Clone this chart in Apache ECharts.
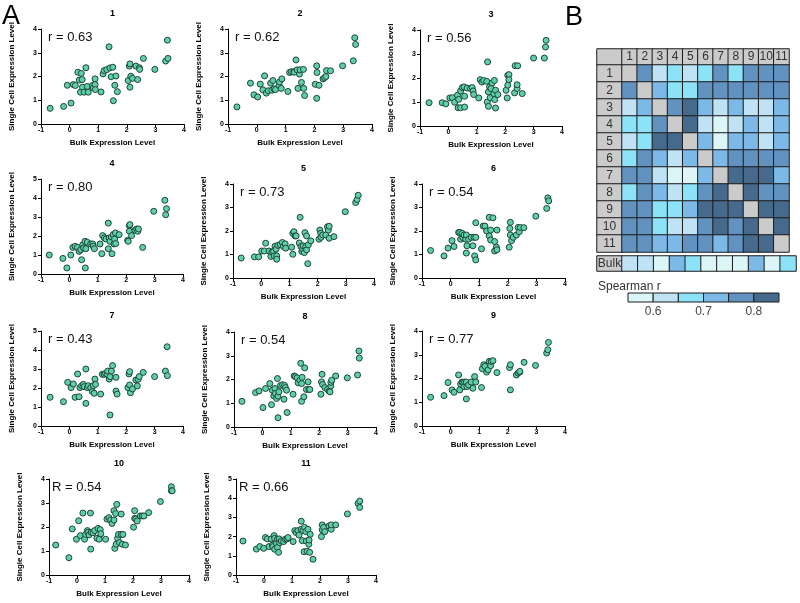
<!DOCTYPE html>
<html>
<head>
<meta charset="utf-8">
<title>Single cell vs bulk expression</title>
<script src="https://cdn.jsdelivr.net/npm/echarts@6/dist/echarts.min.js"></script>
<style>
    html, body {margin: 0; padding: 0; background: #fff;}
    #chart {width: 800px; height: 603px;}
</style>
</head>
<body>
<div id="chart"></div>
<script>
    // ---- data ----
    const PANEL_NAMES = ['1', '2', '3', '4', '5', '6', '7', '8', '9', '10', '11'];
    const R_LABELS = ['r = 0.63', 'r = 0.62', 'r = 0.56', 'r = 0.80', 'r = 0.73', 'r = 0.54',
        'r = 0.43', 'r = 0.54', 'r = 0.77', 'R = 0.54', 'R = 0.66'];
    const Y_MAX = [4, 4, 4, 5, 4, 4, 5, 4, 4, 4, 5];
    const X_NAME = 'Bulk Expression Level';
    const Y_NAME = 'Single Cell Expression Level';

    // [bulk, single cell] per gene, one list per cell
    const cell1 = [[-0.68, 0.66], [-0.21, 0.74], [0.05, 0.88], [-0.08, 1.63], [0.13, 1.66], [0.2, 1.62], [0.29, 2.18],
        [0.41, 2.13], [0.34, 1.85], [0.44, 1.87], [0.38, 1.34], [0.45, 1.55], [0.51, 1.34], [0.57, 2.37], [0.62, 1.58],
        [0.65, 1.34], [0.8, 1.62], [0.83, 1.52], [0.89, 1.9], [0.89, 1.66], [0.9, 1.45], [1.1, 1.35], [1.17, 2.11],
        [1.21, 2.25], [1.3, 2.29], [1.38, 3.25], [1.41, 2.36], [1.45, 1.99], [1.51, 2.39], [1.53, 0.98], [1.58, 1.63],
        [1.62, 2.02], [1.67, 1.36], [2.05, 1.83], [2.09, 2.44], [2.11, 2.53], [2.11, 1.55], [2.14, 2.01], [2.2, 1.92],
        [2.32, 2.44], [2.38, 1.87], [2.44, 2.37], [2.45, 2.3], [2.58, 2.76], [2.98, 2.3], [3.36, 2.65], [3.42, 3.53],
        [3.44, 2.76]];
    const cell2 = [[-0.69, 0.72], [-0.22, 1.72], [-0.1, 1.23], [0.03, 1.14], [0.12, 1.68], [0.27, 2.03], [0.21, 1.44],
        [0.33, 1.3], [0.4, 1.4], [0.48, 1.72], [0.56, 1.83], [0.52, 1.42], [0.6, 1.48], [0.65, 1.45], [0.77, 1.63],
        [0.79, 1.77], [0.87, 1.9], [0.85, 1.5], [1.08, 1.37], [1.14, 2.17], [1.2, 2.2], [1.28, 2.2], [1.3, 2.18],
        [1.36, 2.7], [1.4, 2.28], [1.43, 1.5], [1.48, 2.1], [1.5, 2.28], [1.55, 1.75], [1.62, 2.3], [1.63, 1.5],
        [1.66, 1.2], [2.03, 1.67], [2.08, 2.45], [2.09, 2.17], [2.08, 1.08], [2.16, 1.63], [2.3, 1.9], [2.35, 1.95],
        [2.4, 2.0], [2.42, 2.25], [2.56, 2.24], [2.98, 2.45], [3.35, 2.66], [3.4, 3.63], [3.43, 3.35]];
    const cell3 = [[-0.68, 0.97], [-0.22, 0.97], [-0.09, 0.92], [0.05, 1.17], [0.14, 1.18], [0.22, 0.99], [0.32, 1.28],
        [0.36, 1.11], [0.43, 1.46], [0.34, 0.76], [0.43, 0.76], [0.49, 1.6], [0.55, 1.63], [0.57, 0.79], [0.57, 1.24],
        [0.66, 1.58], [0.78, 1.56], [0.84, 1.6], [0.87, 1.46], [0.89, 1.31], [1.07, 1.17], [1.12, 1.93], [1.18, 1.83],
        [1.24, 1.9], [1.35, 1.86], [1.38, 2.67], [1.37, 1.0], [1.41, 0.82], [1.41, 1.42], [1.45, 1.63], [1.47, 1.18],
        [1.5, 1.56], [1.54, 1.79], [1.6, 1.35], [1.62, 1.9], [1.63, 1.1], [1.66, 0.75], [1.66, 1.49], [1.74, 1.31],
        [2.03, 1.49], [2.07, 1.17], [2.09, 2.11], [2.09, 1.7], [2.13, 2.14], [2.13, 1.93], [2.33, 1.38], [2.35, 2.51],
        [2.42, 1.56], [2.42, 1.72], [2.44, 2.51], [2.6, 1.35], [3.0, 2.83], [3.38, 2.83], [3.42, 3.29], [3.44, 3.57]];
    const cell4 = [[-0.71, 1.0], [-0.23, 0.82], [-0.09, 0.32], [0.05, 1.0], [0.12, 1.4], [0.2, 1.46], [0.28, 1.4],
        [0.34, 1.19], [0.4, 1.28], [0.43, 0.75], [0.47, 1.54], [0.5, 1.37], [0.55, 1.72], [0.56, 0.32], [0.58, 1.33],
        [0.63, 1.67], [0.75, 1.58], [0.82, 1.58], [0.84, 1.46], [0.88, 1.33], [1.08, 1.58], [1.14, 1.07], [1.17, 2.02],
        [1.23, 1.9], [1.29, 1.84], [1.37, 2.68], [1.37, 1.33], [1.4, 1.89], [1.43, 1.72], [1.48, 1.95], [1.5, 1.07],
        [1.54, 2.07], [1.57, 1.58], [1.59, 1.84], [1.62, 2.16], [1.63, 1.6], [1.75, 2.07], [2.05, 1.77], [2.07, 1.72],
        [2.11, 2.54], [2.13, 2.6], [2.11, 2.25], [2.19, 2.02], [2.31, 2.3], [2.37, 2.37], [2.41, 2.25], [2.43, 2.37],
        [2.58, 1.4], [2.97, 3.3], [3.36, 3.88], [3.42, 3.44], [3.39, 3.12]];
    const cell5 = [[-0.71, 0.85], [-0.24, 0.9], [-0.09, 0.9], [0.02, 1.15], [0.11, 1.15], [0.16, 1.48], [0.28, 1.15],
        [0.34, 0.92], [0.38, 1.1], [0.44, 1.13], [0.46, 0.94], [0.49, 1.35], [0.53, 1.23], [0.55, 0.94], [0.55, 0.8],
        [0.59, 1.39], [0.67, 1.42], [0.75, 1.51], [0.79, 1.34], [0.85, 1.45], [0.87, 1.27], [1.08, 1.31], [1.12, 1.01],
        [1.12, 1.9], [1.16, 1.97], [1.2, 1.79], [1.24, 1.79], [1.38, 2.58], [1.35, 1.49], [1.41, 1.34], [1.44, 1.13],
        [1.47, 1.23], [1.49, 1.37], [1.53, 1.08], [1.55, 1.93], [1.58, 1.34], [1.61, 1.2], [1.61, 1.79], [1.65, 0.61],
        [1.67, 1.41], [1.76, 1.58], [2.05, 1.65], [2.08, 2.04], [2.11, 1.9], [2.12, 1.73], [2.18, 1.83], [2.29, 1.83],
        [2.35, 2.18], [2.38, 2.04], [2.41, 2.2], [2.41, 1.69], [2.58, 1.76], [2.98, 2.82], [3.35, 3.21], [3.4, 3.34],
        [3.44, 3.52]];
    const cell6 = [[-0.7, 1.17], [-0.23, 0.94], [-0.09, 1.27], [0.05, 1.59], [0.12, 1.34], [0.28, 1.94], [0.32, 1.94],
        [0.35, 1.65], [0.4, 1.9], [0.43, 1.72], [0.47, 1.83], [0.53, 1.65], [0.55, 1.06], [0.57, 1.37], [0.55, 1.83],
        [0.63, 1.65], [0.72, 1.73], [0.78, 1.37], [0.82, 1.73], [0.84, 0.94], [0.88, 0.77], [0.88, 2.35], [0.88, 1.73],
        [1.08, 1.24], [1.14, 2.21], [1.2, 2.21], [1.26, 2.0], [1.35, 2.58], [1.35, 1.79], [1.4, 2.04], [1.4, 1.62],
        [1.48, 2.56], [1.54, 1.55], [1.54, 1.15], [1.6, 1.31], [1.62, 2.04], [1.62, 1.2], [2.05, 1.31], [2.07, 2.11],
        [2.09, 1.83], [2.09, 2.37], [2.13, 1.59], [2.19, 1.73], [2.3, 1.83], [2.36, 2.15], [2.4, 1.97], [2.44, 2.15],
        [2.56, 2.14], [2.98, 2.63], [3.36, 2.96], [3.4, 3.41], [3.43, 3.28]];
    const cell7 = [[-0.68, 1.51], [-0.21, 1.28], [-0.06, 2.3], [0.06, 2.02], [0.14, 2.21], [0.2, 1.51], [0.29, 2.74],
        [0.34, 1.54], [0.37, 2.02], [0.43, 2.12], [0.49, 2.19], [0.52, 2.07], [0.58, 3.0], [0.58, 1.19], [0.63, 2.02],
        [0.67, 2.12], [0.75, 2.02], [0.81, 1.81], [0.84, 2.12], [0.87, 1.72], [0.9, 2.47], [0.92, 2.19], [1.1, 1.68],
        [1.16, 2.72], [1.22, 2.72], [1.27, 2.77], [1.33, 2.72], [1.35, 2.89], [1.4, 2.47], [1.43, 2.6], [1.43, 0.58],
        [1.48, 2.89], [1.52, 3.18], [1.64, 2.56], [1.64, 1.84], [1.68, 1.68], [2.06, 2.02], [2.1, 2.74], [2.12, 2.86],
        [2.12, 2.16], [2.15, 1.75], [2.22, 1.95], [2.34, 2.42], [2.39, 2.11], [2.42, 2.46], [2.46, 2.6], [2.6, 2.82],
        [3.0, 2.6], [3.38, 2.89], [3.44, 4.17], [3.45, 2.65]];
    const cell8 = [[-0.72, 1.08], [-0.24, 1.45], [-0.12, 1.52], [0.02, 0.82], [0.11, 1.62], [0.26, 1.83], [0.32, 0.94],
        [0.35, 1.55], [0.4, 1.31], [0.44, 1.62], [0.46, 1.41], [0.5, 1.2], [0.53, 2.04], [0.55, 0.39], [0.55, 1.3],
        [0.58, 1.48], [0.64, 1.75], [0.71, 1.78], [0.76, 1.17], [0.78, 1.75], [0.81, 1.66], [0.85, 1.55], [0.87, 0.61],
        [1.08, 1.38], [1.12, 2.15], [1.16, 2.12], [1.22, 2.07], [1.26, 1.86], [1.32, 1.97], [1.35, 2.68], [1.38, 1.83],
        [1.38, 1.08], [1.4, 2.09], [1.46, 1.27], [1.49, 2.49], [1.55, 1.58], [1.61, 1.9], [1.64, 1.58], [1.67, 1.58],
        [2.06, 1.38], [2.08, 1.9], [2.1, 2.22], [2.12, 1.79], [2.2, 1.66], [2.29, 1.58], [2.35, 1.51], [2.38, 1.48],
        [2.41, 1.73], [2.41, 1.88], [2.44, 1.97], [2.58, 2.15], [2.99, 2.07], [3.35, 2.19], [3.41, 2.9], [3.4, 3.2]];
    const cell9 = [[-0.7, 1.21], [-0.23, 1.28], [-0.09, 1.83], [0.05, 1.52], [0.12, 1.42], [0.28, 2.15], [0.32, 1.52],
        [0.35, 1.76], [0.4, 1.85], [0.43, 1.83], [0.47, 1.66], [0.49, 1.85], [0.55, 1.85], [0.55, 1.14], [0.57, 1.66],
        [0.63, 1.73], [0.72, 1.85], [0.78, 1.59], [0.84, 2.08], [0.88, 1.85], [1.08, 1.62], [1.11, 2.41], [1.16, 2.58],
        [1.2, 2.51], [1.26, 2.27], [1.31, 2.37], [1.35, 2.72], [1.4, 2.54], [1.42, 2.72], [1.48, 2.75], [1.62, 2.25],
        [2.06, 2.46], [2.09, 2.58], [2.09, 1.52], [2.3, 2.15], [2.36, 2.23], [2.42, 2.27], [2.42, 2.3], [2.57, 2.68],
        [2.97, 2.55], [3.36, 3.07], [3.4, 3.21], [3.42, 3.52]];
    const cell10 = [[-0.76, 1.25], [-0.29, 0.72], [-0.17, 1.92], [-0.02, 1.49], [0.06, 2.26], [0.12, 1.64], [0.21, 2.58],
        [0.27, 1.49], [0.31, 1.69], [0.37, 1.85], [0.39, 1.78], [0.43, 1.67], [0.48, 2.58], [0.49, 1.08], [0.51, 1.78],
        [0.57, 1.76], [0.63, 1.85], [0.71, 1.53], [0.75, 1.94], [0.79, 1.49], [0.83, 1.89], [0.85, 1.72], [1.02, 1.49],
        [1.07, 2.33], [1.14, 2.39], [1.2, 2.29], [1.25, 2.15], [1.32, 2.68], [1.32, 2.29], [1.35, 1.11], [1.38, 2.56],
        [1.4, 1.28], [1.42, 2.94], [1.45, 1.53], [1.48, 1.69], [1.52, 1.35], [1.58, 2.54], [1.58, 1.69], [1.62, 1.28],
        [1.64, 1.69], [1.73, 1.25], [2.02, 1.99], [2.06, 2.68], [2.06, 2.36], [2.1, 2.33], [2.15, 2.25], [2.26, 2.46],
        [2.33, 2.46], [2.39, 2.46], [2.56, 2.6], [2.98, 3.06], [3.37, 3.68], [3.37, 3.51], [3.4, 3.51]];
    const cell11 = [[-0.75, 1.77], [-0.27, 1.35], [-0.15, 1.48], [-0.01, 1.39], [0.05, 1.95], [0.12, 1.88], [0.18, 1.48],
        [0.26, 1.88], [0.3, 1.56], [0.32, 1.48], [0.36, 2.05], [0.38, 1.91], [0.38, 1.34], [0.44, 1.65], [0.48, 1.86],
        [0.48, 1.44], [0.52, 1.18], [0.54, 1.88], [0.56, 1.68], [0.62, 1.77], [0.7, 1.74], [0.76, 1.86], [0.82, 1.88],
        [0.86, 1.95], [1.04, 1.74], [1.1, 2.31], [1.15, 2.21], [1.21, 2.31], [1.25, 2.08], [1.33, 2.8], [1.33, 2.38],
        [1.37, 1.79], [1.39, 2.31], [1.43, 1.21], [1.45, 2.48], [1.49, 2.26], [1.51, 1.77], [1.54, 1.24], [1.57, 2.38],
        [1.6, 1.6], [1.61, 1.82], [1.63, 1.18], [1.65, 2.12], [1.75, 0.82], [2.05, 2.0], [2.08, 2.61], [2.08, 2.35],
        [2.13, 2.48], [2.17, 2.26], [2.32, 2.55], [2.4, 2.38], [2.4, 2.61], [2.56, 2.61], [2.98, 3.18], [3.36, 3.73],
        [3.42, 3.85], [3.42, 3.52]];
    const CELLS = [cell1, cell2, cell3, cell4, cell5, cell6, cell7, cell8, cell9, cell10, cell11];

    // Spearman r between cells (diagonal = 1)
    const hmRow1 = [1.00, 0.77, 0.63, 0.67, 0.63, 0.67, 0.77, 0.67, 0.77, 0.77, 0.77];
    const hmRow2 = [0.77, 1.00, 0.72, 0.67, 0.67, 0.77, 0.77, 0.77, 0.77, 0.77, 0.77];
    const hmRow3 = [0.63, 0.72, 1.00, 0.77, 0.82, 0.72, 0.63, 0.72, 0.63, 0.63, 0.72];
    const hmRow4 = [0.67, 0.67, 0.77, 1.00, 0.82, 0.63, 0.58, 0.63, 0.72, 0.63, 0.72];
    const hmRow5 = [0.63, 0.67, 0.82, 0.82, 1.00, 0.72, 0.58, 0.72, 0.72, 0.63, 0.72];
    const hmRow6 = [0.67, 0.77, 0.72, 0.63, 0.72, 1.00, 0.72, 0.77, 0.77, 0.77, 0.77];
    const hmRow7 = [0.77, 0.77, 0.63, 0.58, 0.58, 0.72, 1.00, 0.82, 0.82, 0.82, 0.72];
    const hmRow8 = [0.67, 0.77, 0.72, 0.63, 0.67, 0.77, 0.82, 1.00, 0.82, 0.77, 0.77];
    const hmRow9 = [0.77, 0.77, 0.67, 0.67, 0.72, 0.82, 0.82, 0.82, 1.00, 0.82, 0.82];
    const hmRow10 = [0.77, 0.77, 0.67, 0.63, 0.63, 0.77, 0.82, 0.77, 0.82, 1.00, 0.82];
    const hmRow11 = [0.77, 0.77, 0.72, 0.72, 0.77, 0.77, 0.72, 0.77, 0.82, 0.82, 1.00];
    const HM_ROWS = [hmRow1, hmRow2, hmRow3, hmRow4, hmRow5, hmRow6, hmRow7, hmRow8, hmRow9, hmRow10, hmRow11];
    const BULK_R = [0.63, 0.63, 0.58, 0.72, 0.67, 0.58, 0.58, 0.58, 0.72, 0.58, 0.67];
    const LEGEND_BREAKS = [0.55, 0.60, 0.65, 0.70, 0.75, 0.80, 0.85];
    const LEGEND_TICKS = [0.6, 0.7, 0.8];

    // ---- layout / style ----
    // [x of -1, y of top, x of 4, y of 0] for each scatter panel
    const BOX = [[41, 29, 184, 124], [228, 29, 372, 124], [420, 30, 562, 126],
        [41, 179, 183, 274], [233, 184, 374, 278], [422, 184, 565, 278],
        [41, 331, 183, 426], [234, 332, 376, 427], [422, 331, 565, 426],
        [49, 479, 189, 575], [236, 479, 376, 575]];
    const FONT = '"Liberation Sans", Arial, Helvetica, sans-serif';
    const LEVEL_COLORS = ['#dcf6f8', '#bfe3f4', '#8ce2f6', '#7cb9e6', '#6292c0', '#466a8b'];
    const GREY = '#cbcbcb';

    let chart = echarts.init(document.getElementById('chart'));
    let grid = [], xAxis = [], yAxis = [], series = [], graphic = [];

    let axisText = {fontFamily: FONT, fontWeight: 'bold', fontSize: 7, color: '#000'};
    let nameText = {fontFamily: FONT, fontWeight: 'bold', fontSize: 8, color: '#000'};

    CELLS.forEach(function (pts, i) {
        let b = BOX[i];
        grid.push({left: b[0], top: b[1], width: b[2] - b[0], height: b[3] - b[1]});
        xAxis.push({
            gridIndex: i, type: 'value', min: -1, max: 4, interval: 1,
            name: X_NAME, nameLocation: 'middle', nameGap: 15, nameTextStyle: nameText,
            axisLine: {onZero: false, lineStyle: {color: '#000', width: 1}},
            axisTick: {length: 3, lineStyle: {color: '#000'}},
            axisLabel: Object.assign({margin: 3}, axisText),
            splitLine: {show: false}
        });
        yAxis.push({
            gridIndex: i, type: 'value', min: 0, max: Y_MAX[i], interval: 1,
            name: Y_NAME, nameLocation: 'middle', nameGap: 25, nameTextStyle: nameText,
            axisLine: {show: true, onZero: false, lineStyle: {color: '#000', width: 1}},
            axisTick: {show: true, length: 3, lineStyle: {color: '#000'}},
            axisLabel: Object.assign({margin: 4}, axisText),
            splitLine: {show: false}
        });
        series.push({
            type: 'scatter', xAxisIndex: i, yAxisIndex: i, data: pts, symbolSize: 6,
            itemStyle: {color: '#5fcfab', borderColor: '#1d4638', borderWidth: 1, opacity: 1}
        });
        graphic.push({
            type: 'text', x: (b[0] + b[2]) / 2, y: b[1] - 15,
            style: {text: PANEL_NAMES[i], font: 'bold 9px ' + FONT, fill: '#000',
                textAlign: 'center', textVerticalAlign: 'middle'}
        });
        graphic.push({
            type: 'text', x: b[0] + (i >= 9 ? 3 : 7), y: b[1] + 8,
            style: {text: R_LABELS[i], font: '13px ' + FONT, fill: '#111',
                textAlign: 'left', textVerticalAlign: 'middle'}
        });
    });

    // ---- panel B: heatmap blocks ----
    function addBlock(box, xCats, yCats, data, labelFn) {
        let gi = grid.length;
        grid.push({left: box[0], top: box[1], width: box[2], height: box[3]});
        xAxis.push({gridIndex: gi, type: 'category', data: xCats, show: false});
        yAxis.push({gridIndex: gi, type: 'category', data: yCats, inverse: true, show: false});
        series.push({
            type: 'heatmap', xAxisIndex: gi, yAxisIndex: gi, data: data,
            itemStyle: {borderColor: '#1c1c1c', borderWidth: 1},
            label: {show: !!labelFn, formatter: labelFn, fontFamily: FONT, fontSize: 12, color: '#333'},
            emphasis: {disabled: true}
        });
        return series.length - 1;
    }

    let bodyData = [];
    HM_ROWS.forEach(function (row, r) {
        row.forEach(function (v, c) {
            bodyData.push([c, r, v]);
        });
    });

    let sCorner = addBlock([597, 49, 25, 16], [''], [''], [[0, 0, 0]], null);
    let sHead = addBlock([622, 49, 167, 16], PANEL_NAMES, [''],
        PANEL_NAMES.map(function (n, i) { return [i, 0, 0]; }),
        function (p) { return PANEL_NAMES[p.value[0]]; });
    let sRowLab = addBlock([597, 65, 25, 187], [''], PANEL_NAMES,
        PANEL_NAMES.map(function (n, i) { return [0, i, 0]; }),
        function (p) { return PANEL_NAMES[p.value[1]]; });
    let sBody = addBlock([622, 65, 167, 187], PANEL_NAMES, PANEL_NAMES, bodyData, null);
    let sBulkLab = addBlock([597, 256, 25, 15], [''], [''], [[0, 0, 0]],
        function () { return 'Bulk'; });
    let sBulk = addBlock([622, 256, 174, 15], PANEL_NAMES, [''],
        BULK_R.map(function (v, i) { return [i, 0, v]; }), null);

    // ---- legend bar ----
    let lg = grid.length;
    grid.push({left: 628, top: 293, width: 151, height: 9});
    xAxis.push({
        gridIndex: lg, type: 'value', min: 0.55, max: 0.85, interval: 0.05,
        axisLine: {show: false}, axisTick: {show: false}, splitLine: {show: false},
        axisLabel: {
            margin: 4, fontFamily: FONT, fontSize: 12, color: '#444',
            formatter: function (v) {
                let r = Math.round(v * 100) / 100;
                return LEGEND_TICKS.indexOf(r) >= 0 ? r.toFixed(1) : '';
            }
        }
    });
    yAxis.push({gridIndex: lg, type: 'category', data: [''], show: false});
    let legendData = [];
    for (let k = 0; k < LEGEND_BREAKS.length - 1; k++) {
        legendData.push([LEGEND_BREAKS[k], LEGEND_BREAKS[k + 1]]);
    }
    series.push({
        type: 'custom', xAxisIndex: lg, yAxisIndex: lg, data: legendData,
        renderItem: function (params, api) {
            let a = api.coord([api.value(0), 0]);
            let b = api.coord([api.value(1), 0]);
            let h = api.size([0, 1])[1];
            return {
                type: 'rect',
                shape: {x: a[0], y: a[1] - h / 2, width: b[0] - a[0], height: h},
                style: {fill: LEVEL_COLORS[params.dataIndex], stroke: '#1c1c1c', lineWidth: 1}
            };
        }
    });

    graphic.push({type: 'text', x: 2, y: 17,
        style: {text: 'A', font: '27px ' + FONT, fill: '#000', textVerticalAlign: 'middle'}});
    graphic.push({type: 'text', x: 565, y: 18,
        style: {text: 'B', font: '27px ' + FONT, fill: '#000', textVerticalAlign: 'middle'}});
    graphic.push({type: 'text', x: 598, y: 287,
        style: {text: 'Spearman r', font: '12px ' + FONT, fill: '#333', textVerticalAlign: 'middle'}});

    let option = {
        animation: false,
        backgroundColor: '#fff',
        grid: grid,
        xAxis: xAxis,
        yAxis: yAxis,
        visualMap: [{
            type: 'piecewise', show: false, dimension: 2, seriesIndex: [sBody, sBulk],
            pieces: [
                {gte: 0.9, color: GREY},
                {gte: 0.8, lt: 0.9, color: LEVEL_COLORS[5]},
                {gte: 0.75, lt: 0.8, color: LEVEL_COLORS[4]},
                {gte: 0.7, lt: 0.75, color: LEVEL_COLORS[3]},
                {gte: 0.65, lt: 0.7, color: LEVEL_COLORS[2]},
                {gte: 0.6, lt: 0.65, color: LEVEL_COLORS[1]},
                {lt: 0.6, color: LEVEL_COLORS[0]}
            ]
        }, {
            type: 'piecewise', show: false, dimension: 2, seriesIndex: [sCorner, sHead, sRowLab, sBulkLab],
            pieces: [{gte: -1, lte: 1, color: GREY}]
        }],
        graphic: graphic,
        series: series
    };

    chart.setOption(option);
</script>
</body>
</html>
